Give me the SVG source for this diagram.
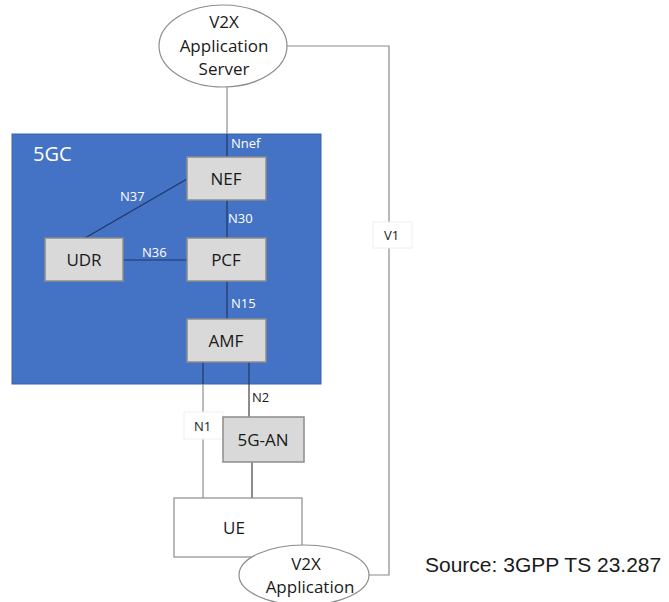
<svg xmlns="http://www.w3.org/2000/svg" width="669" height="602" viewBox="0 0 669 602">
<style>
.box{fill:#D9D9D9;stroke:#8C8C8C;stroke-width:1.5}
.ell{fill:#FFFFFF;stroke:#8C8C8C;stroke-width:1.2}
.t{font-family:"Open Sans","Noto Sans",sans-serif;font-size:17px;fill:#1A1A1A;text-anchor:middle}
.lw{font-family:"Open Sans","Noto Sans",sans-serif;font-size:13px;fill:#FFFFFF}
.lb{font-family:"Open Sans","Noto Sans",sans-serif;font-size:13px;fill:#1A1A1A}
.g{stroke:#8C8C8C;stroke-width:1.2;fill:none}
.d{stroke:#1F3864;stroke-width:1.2;fill:none}
.k{stroke:#404040;stroke-width:1.2;fill:none}
.lbl{fill:#FFFFFF;stroke:#F0F0F0;stroke-width:1}
</style>
<rect width="669" height="602" fill="#FFFFFF"/>
<g id="core5gc">
<rect x="12" y="134" width="309" height="250" fill="#4472C4" stroke="#3A62A8" stroke-width="1"/>
<text x="33" y="161" font-family="Open Sans, Noto Sans, sans-serif" font-size="20" fill="#FFFFFF">5GC</text>
</g>
<g id="connectors">
<polyline class="g" points="287,46 389,46 389,575 368,575"/>
<line class="g" x1="227" y1="87" x2="227" y2="134"/>
<line class="d" x1="227" y1="134" x2="227" y2="157"/>
<line class="d" x1="85" y1="238" x2="187" y2="179"/>
<line class="d" x1="227" y1="200" x2="227" y2="238"/>
<line class="d" x1="123" y1="260" x2="187" y2="260"/>
<line class="d" x1="227" y1="281" x2="227" y2="319"/>
<line class="d" x1="203" y1="362" x2="203" y2="384"/>
<line class="g" x1="203" y1="384" x2="203" y2="498"/>
<line class="d" x1="249" y1="362" x2="249" y2="384"/>
<line class="k" x1="249" y1="384" x2="249" y2="417"/>
<line class="k" x1="252" y1="462" x2="252" y2="498"/>
<text class="lw" x="231" y="148">Nnef</text>
<text class="lw" x="120" y="201">N37</text>
<text class="lw" x="228" y="223">N30</text>
<text class="lw" x="142" y="257">N36</text>
<text class="lw" x="231" y="308">N15</text>
<text class="lb" x="252" y="402">N2</text>
<rect class="lbl" x="184" y="412" width="39" height="27"/>
<text class="lb" x="194" y="431">N1</text>
<rect class="lbl" x="373" y="222" width="39" height="26"/>
<text class="lb" x="384" y="240">V1</text>
</g>
<g id="server">
<ellipse class="ell" cx="223" cy="46" rx="64" ry="41"/>
<text class="t" x="224" y="28">V2X</text>
<text class="t" x="224" y="52">Application</text>
<text class="t" x="224" y="75">Server</text>
</g>
<g id="nef">
<rect class="box" x="187" y="157" width="79" height="43"/>
<text class="t" x="226" y="185">NEF</text>
</g>
<g id="udr">
<rect class="box" x="45" y="238" width="78" height="43"/>
<text class="t" x="84" y="266">UDR</text>
</g>
<g id="pcf">
<rect class="box" x="187" y="238" width="79" height="43"/>
<text class="t" x="226" y="266">PCF</text>
</g>
<g id="amf">
<rect class="box" x="187" y="319" width="79" height="43"/>
<text class="t" x="226" y="347">AMF</text>
</g>
<g id="an5g">
<rect class="box" x="223" y="417" width="81" height="45"/>
<text class="t" x="263" y="446">5G-AN</text>
</g>
<g id="ue">
<rect x="174" y="498" width="128" height="59" fill="#FFFFFF" stroke="#8C8C8C" stroke-width="1.2"/>
<text class="t" x="234" y="534">UE</text>
</g>
<g id="v2xapp">
<ellipse class="ell" cx="304" cy="575" rx="65" ry="30"/>
<text class="t" x="306" y="570">V2X</text>
<text class="t" x="310" y="593">Application</text>
</g>
<text x="425" y="572" font-family="Liberation Sans, Arial, sans-serif" font-size="21" fill="#1A1A1A">Source: 3GPP TS 23.287</text>
</svg>
